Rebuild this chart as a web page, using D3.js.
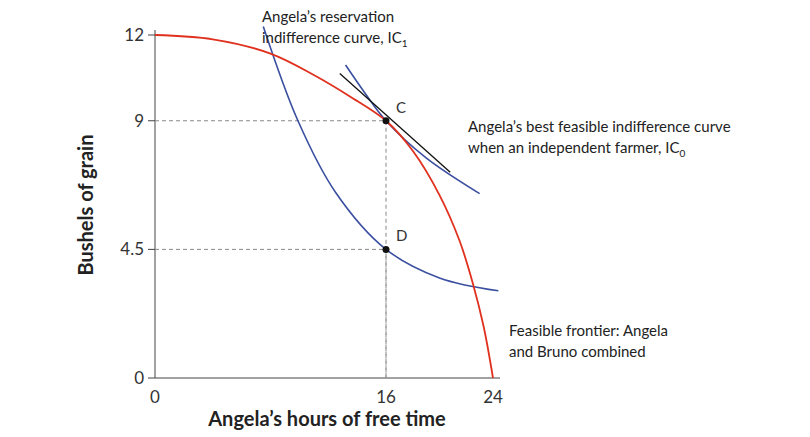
<!DOCTYPE html>
<html><head><meta charset="utf-8">
<script src="https://cdn.jsdelivr.net/npm/d3@7"></script>
<style>body{margin:0;background:#fff;font-family:Lato,"Open Sans",sans-serif}</style>
</head><body>
<script>
// valeurs
var xTicks = [0, 16, 24];
var yTicks = [0, 4.5, 9, 12];
var frontier = [[0,12],[4,11.85],[8,11.35],[11,10.6],[13.5,9.85],[16,9],[18,7.95],[20,6.4],[21.5,4.8],[22.5,3.3],[23.3,1.8],[24,0]];
var ic1 = [[7.5,12.3],[9.9,9],[12.5,6.5],[16,4.5],[20,3.5],[24.4,3.05]];
var ic0 = [[13.2,10.95],[14.5,10.0],[16,9],[19,7.7],[23,6.45]];
var tangent = [[12.8,10.65],[20.8,7.2]];
var points = [{x:16,y:9,n:"C"},{x:16,y:4.5,n:"D"}];

var svg = d3.select("body").append("svg").attr("width",810).attr("height",437);
var x = d3.scaleLinear().domain([0,16,24]).range([155,386,493]);
var y = d3.scaleLinear().domain([0,12]).range([378,35]);

// axes
svg.append("line").attr("x1",155).attr("x2",155).attr("y1",30).attr("y2",378).attr("stroke","#444");
svg.append("line").attr("x1",155).attr("x2",500).attr("y1",378).attr("y2",378).attr("stroke","#444");
svg.selectAll(".yt").data(yTicks).enter().append("line")
  .attr("x1",148).attr("x2",155).attr("y1",function(d){return y(d);}).attr("y2",function(d){return y(d);}).attr("stroke","#444");
svg.selectAll(".yl").data(yTicks).enter().append("text")
  .attr("x",144).attr("y",function(d){return y(d)+6;}).attr("text-anchor","end").attr("font-size",17).attr("fill","#333")
  .text(function(d){return d;});
svg.selectAll(".xl").data(xTicks).enter().append("text")
  .attr("x",function(d){return x(d);}).attr("y",403).attr("text-anchor","middle").attr("font-size",17).attr("fill","#333")
  .text(function(d){return d;});
svg.append("text").attr("x",327).attr("y",426).attr("text-anchor","middle").attr("font-size",20).attr("font-weight","bold").attr("fill","#222").text("Angela’s hours of free time");
svg.append("text").attr("transform","translate(93,205) rotate(-90)").attr("text-anchor","middle").attr("font-size",20).attr("font-weight","bold").attr("fill","#222").text("Bushels of grain");

// pointillés
points.forEach(function(p){
  svg.append("line").attr("x1",155).attr("x2",x(p.x)).attr("y1",y(p.y)).attr("y2",y(p.y)).attr("stroke","#888").attr("stroke-dasharray","4,3");
  svg.append("line").attr("x1",x(p.x)).attr("x2",x(p.x)).attr("y1",y(p.y)).attr("y2",378).attr("stroke","#888").attr("stroke-dasharray","4,3");
});

var line = d3.line().x(function(d){return x(d[0]);}).y(function(d){return y(d[1]);}).curve(d3.curveCatmullRom);
svg.append("path").attr("d",line(ic1)).attr("fill","none").attr("stroke","#3a4fa0").attr("stroke-width",1.6);
svg.append("path").attr("d",line(ic0)).attr("fill","none").attr("stroke","#3a4fa0").attr("stroke-width",1.6);
svg.append("path").attr("d",d3.line().x(function(d){return x(d[0]);}).y(function(d){return y(d[1]);})(tangent)).attr("stroke","#111").attr("stroke-width",1.3);
svg.append("path").attr("d",line(frontier)).attr("fill","none").attr("stroke","#e0301e").attr("stroke-width",1.8);

svg.selectAll(".pt").data(points).enter().append("circle")
  .attr("cx",function(d){return x(d.x);}).attr("cy",function(d){return y(d.y);}).attr("r",3.5).attr("fill","#111");
svg.selectAll(".pn").data(points).enter().append("text")
  .attr("x",function(d){return x(d.x)+10;}).attr("y",function(d){return y(d.y)-8;}).attr("font-size",15).attr("fill","#333")
  .text(function(d){return d.n;});

// annotations
function label(tx,ty,lines){
  var t = svg.append("text").attr("font-size",15).attr("fill","#222");
  lines.forEach(function(l,i){
    t.append("tspan").attr("x",tx).attr("y",ty+i*21).text(l[0]);
    if(l[1]) t.append("tspan").attr("dy",4).attr("font-size",10).text(l[1]);
  });
}
label(262,22,[["Angela’s reservation"],["indifference curve, IC","1"]]);
label(468,132,[["Angela’s best feasible indifference curve"],["when an independent farmer, IC","0"]]);
label(509,336,[["Feasible frontier: Angela"],["and Bruno combined"]]);
</script>
</body></html>
